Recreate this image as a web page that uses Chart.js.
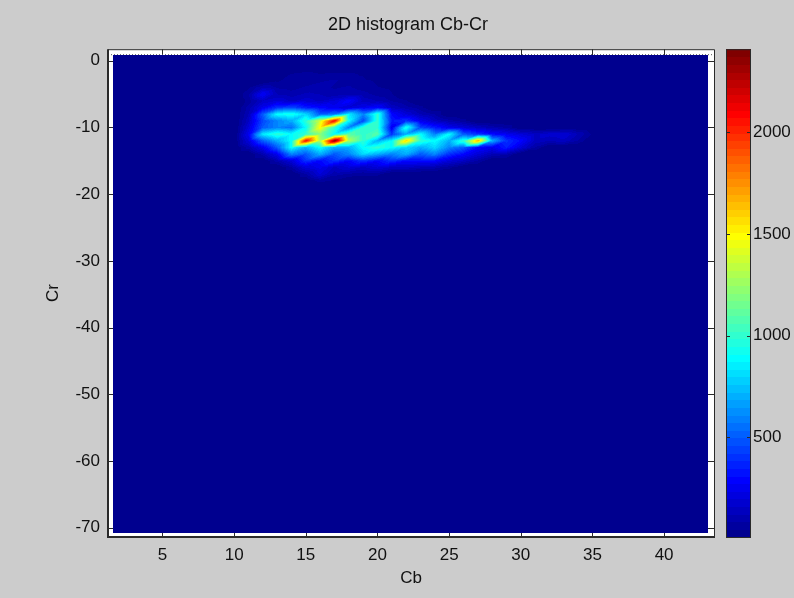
<!DOCTYPE html>
<html>
<head>
<meta charset="utf-8">
<script src="https://cdn.jsdelivr.net/npm/chart.js@4.4.1/dist/chart.umd.min.js"></script>
<style>
  html, body { margin: 0; padding: 0; background: #cccccc; }
  #wrap { width: 794px; height: 598px; }
</style>
</head>
<body>
<div id="wrap"><canvas id="histChart" width="794" height="598"></canvas></div>
<script>
// tick labels
const cbTicks = [5, 10, 15, 20, 25, 30, 35, 40];
const crTicks = [0, -10, -20, -30, -40, -50, -60, -70];
const colorTicks = [500, 1000, 1500, 2000];

// histogram bins (only the non empty block, every other bin is ~0)
const cbBins = [10, 11, 12, 13, 14, 15, 16, 17, 18, 19, 20, 21, 22, 23, 24, 25, 26, 27, 28, 29, 30, 31, 32, 33, 34, 35];
const crBins = [-2, -3, -4, -5, -6, -7, -8, -9, -10, -11, -12, -13, -14, -15, -16, -17, -18];

// counts[row = Cr][col = Cb]
const counts = [
  [0, 0, 0, 0, 50, 70, 50, 60, 60, 40, 0, 0, 0, 0, 0, 0, 0, 0, 0, 0, 0, 0, 0, 0, 0, 0],
  [0, 0, 0, 40, 70, 60, 80, 90, 70, 60, 40, 0, 0, 0, 0, 0, 0, 0, 0, 0, 0, 0, 0, 0, 0, 0],
  [0, 40, 120, 80, 70, 90, 100, 80, 90, 70, 50, 40, 0, 0, 0, 0, 0, 0, 0, 0, 0, 0, 0, 0, 0, 0],
  [0, 80, 280, 120, 100, 130, 120, 100, 110, 100, 70, 50, 0, 0, 0, 0, 0, 0, 0, 0, 0, 0, 0, 0, 0, 0],
  [0, 60, 160, 200, 150, 180, 150, 200, 300, 150, 120, 80, 50, 0, 0, 0, 0, 0, 0, 0, 0, 0, 0, 0, 0, 0],
  [0, 100, 250, 400, 450, 350, 300, 250, 200, 250, 300, 150, 100, 60, 0, 0, 0, 0, 0, 0, 0, 0, 0, 0, 0, 0],
  [0, 120, 500, 900, 950, 800, 500, 550, 850, 600, 1000, 300, 200, 120, 80, 0, 0, 0, 0, 0, 0, 0, 0, 0, 0, 0],
  [0, 150, 450, 600, 700, 1000, 1400, 2100, 900, 450, 1000, 350, 400, 250, 150, 100, 60, 0, 0, 0, 0, 0, 0, 0, 0, 0],
  [0, 200, 500, 600, 550, 900, 1500, 1000, 600, 1000, 1000, 250, 950, 450, 350, 250, 200, 150, 100, 80, 0, 0, 0, 0, 0, 0],
  [0, 250, 850, 1000, 900, 1000, 1200, 900, 1100, 1000, 1100, 400, 700, 900, 600, 900, 500, 400, 300, 250, 200, 150, 180, 200, 120, 40],
  [0, 200, 500, 700, 900, 2100, 1300, 2400, 1300, 1000, 700, 900, 1600, 1000, 900, 700, 1000, 1700, 700, 400, 300, 150, 120, 150, 80, 0],
  [0, 100, 250, 500, 900, 700, 900, 700, 700, 900, 1000, 900, 800, 700, 800, 600, 500, 300, 250, 350, 200, 80, 0, 0, 0, 0],
  [0, 0, 100, 250, 600, 500, 700, 500, 600, 800, 700, 600, 700, 500, 600, 400, 300, 200, 120, 100, 0, 0, 0, 0, 0, 0],
  [0, 0, 0, 100, 200, 400, 300, 400, 300, 400, 300, 400, 300, 300, 300, 200, 150, 80, 0, 0, 0, 0, 0, 0, 0, 0],
  [0, 0, 0, 0, 80, 200, 250, 150, 200, 150, 200, 150, 150, 120, 100, 60, 0, 0, 0, 0, 0, 0, 0, 0, 0, 0],
  [0, 0, 0, 0, 0, 80, 200, 100, 80, 60, 60, 0, 0, 0, 0, 0, 0, 0, 0, 0, 0, 0, 0, 0, 0, 0],
  [0, 0, 0, 0, 0, 0, 60, 40, 0, 0, 0, 0, 0, 0, 0, 0, 0, 0, 0, 0, 0, 0, 0, 0, 0, 0]
];

// extent of the histogram surface and of the colour scale
const cbExtent = [1.55, 43.06];
const crExtent = [-70.8, 0.85];
const colorLimits = [10, 2408];

function countAt(cb, cr) {
  const col = cb - cbBins[0];
  const row = crBins[0] - cr;
  if (col < 0 || col >= cbBins.length || row < 0 || row >= crBins.length) return 0;
  return counts[row][col];
}

// matlab jet(64), idx 1..64
function jet(idx) {
  const u = p => p <= 16 ? p / 16 : (p <= 31 ? 1 : (48 - p) / 16);
  const r = idx >= 25 ? u(idx - 24) : 0;
  const g = (idx >= 9 && idx <= 55) ? u(idx - 8) : 0;
  const b = idx <= 39 ? u(idx + 8) : 0;
  return [Math.round(r * 255), Math.round(g * 255), Math.round(b * 255)];
}

function colorIndex(v) {
  const f = (v - colorLimits[0]) / (colorLimits[1] - colorLimits[0]);
  return Math.min(64, Math.max(1, Math.floor(f * 64) + 1));
}

// interpolated value, quads split along the "/" diagonal like gouraud shading
function surfaceValue(cb, cr) {
  const i0 = Math.floor(cb), j0 = Math.floor(cr);
  const fx = cb - i0, fy = cr - j0;
  const v00 = countAt(i0, j0), v10 = countAt(i0 + 1, j0);
  const v01 = countAt(i0, j0 + 1), v11 = countAt(i0 + 1, j0 + 1);
  if (fx >= fy) return v00 + fx * (v10 - v00) + fy * (v11 - v10);
  return v00 + fy * (v01 - v00) + fx * (v11 - v01);
}

const textColor = '#111111';
const boxColor = '#2a2a2a';

const histPlugin = {
  id: 'histPlugin',
  beforeDraw(chart) {
    const { ctx, chartArea: a } = chart;
    ctx.save();
    ctx.fillStyle = '#cccccc';
    ctx.fillRect(0, 0, chart.width, chart.height);
    ctx.fillStyle = '#ffffff';
    ctx.fillRect(a.left, a.top, a.right - a.left, a.bottom - a.top);
    ctx.restore();
  },
  beforeDatasetsDraw(chart) {
    const { ctx, chartArea: a } = chart;
    const xs = chart.scales.x, ys = chart.scales.y;
    ctx.save();
    // inward ticks (axes layer is below the image)
    ctx.strokeStyle = boxColor;
    ctx.lineWidth = 1;
    ctx.beginPath();
    xs.ticks.forEach(t => {
      const px = Math.round(xs.getPixelForValue(t.value)) + 0.5;
      ctx.moveTo(px, a.bottom); ctx.lineTo(px, a.bottom - 6);
      ctx.moveTo(px, a.top); ctx.lineTo(px, a.top + 6);
    });
    ys.ticks.forEach(t => {
      const py = Math.round(ys.getPixelForValue(t.value)) + 0.5;
      ctx.moveTo(a.left, py); ctx.lineTo(a.left + 6, py);
      ctx.moveTo(a.right, py); ctx.lineTo(a.right - 6, py);
    });
    ctx.stroke();
    ctx.setLineDash([1, 2]);
    ctx.strokeStyle = '#555555';
    ctx.beginPath();
    ctx.moveTo(a.left, a.top + 5.5); ctx.lineTo(a.right, a.top + 5.5);
    ctx.stroke();
    ctx.setLineDash([]);
    // box
    ctx.lineWidth = 1;
    ctx.strokeStyle = boxColor;
    ctx.beginPath();
    ctx.moveTo(a.left, a.top + 0.5); ctx.lineTo(a.right + 0.5, a.top + 0.5);
    ctx.lineTo(a.right + 0.5, a.bottom);
    ctx.stroke();
    ctx.lineWidth = 2;
    ctx.beginPath();
    ctx.moveTo(a.left, a.top); ctx.lineTo(a.left, a.bottom);
    ctx.lineTo(a.right + 1, a.bottom);
    ctx.stroke();

    // histogram surface
    const px0 = Math.round(xs.getPixelForValue(cbExtent[0]));
    const px1 = Math.round(xs.getPixelForValue(cbExtent[1]));
    const py0 = Math.round(ys.getPixelForValue(crExtent[1]));
    const py1 = Math.round(ys.getPixelForValue(crExtent[0]));
    const w = px1 - px0, h = py1 - py0;
    const img = ctx.createImageData(w, h);
    for (let j = 0; j < h; j++) {
      const cr = ys.getValueForPixel(py0 + j + 0.5);
      for (let i = 0; i < w; i++) {
        const cb = xs.getValueForPixel(px0 + i + 0.5);
        const c = jet(colorIndex(surfaceValue(cb, cr)));
        const k = (j * w + i) * 4;
        img.data[k] = c[0]; img.data[k + 1] = c[1]; img.data[k + 2] = c[2]; img.data[k + 3] = 255;
      }
    }
    ctx.putImageData(img, px0, py0);
    ctx.restore();
  },
  afterDraw(chart) {
    const { ctx, chartArea: a } = chart;
    const cs = chart.scales.c;
    const barLeft = a.right + 12, barWidth = 25;
    ctx.save();
    // colorbar
    const step = (colorLimits[1] - colorLimits[0]) / 64;
    for (let k = 0; k < 64; k++) {
      const lo = colorLimits[0] + k * step;
      const yTop = cs.getPixelForValue(lo + step);
      const yBot = cs.getPixelForValue(lo);
      const c = jet(k + 1);
      ctx.fillStyle = 'rgb(' + c.join(',') + ')';
      ctx.fillRect(barLeft, Math.floor(yTop), barWidth, Math.ceil(yBot) - Math.floor(yTop));
    }
    ctx.strokeStyle = boxColor;
    ctx.lineWidth = 1;
    ctx.strokeRect(barLeft + 0.5, a.top + 0.5, barWidth - 1, a.bottom - a.top);
    ctx.beginPath();
    cs.ticks.forEach(t => {
      const py = Math.round(cs.getPixelForValue(t.value)) + 0.5;
      ctx.moveTo(barLeft + 1, py); ctx.lineTo(barLeft + 4, py);
      ctx.moveTo(barLeft + barWidth - 1, py); ctx.lineTo(barLeft + barWidth - 4, py);
    });
    ctx.stroke();
    // title
    ctx.fillStyle = textColor;
    ctx.font = '18px "Liberation Sans", Arial, sans-serif';
    ctx.textAlign = 'center';
    ctx.textBaseline = 'middle';
    ctx.fillText('2D histogram Cb-Cr', (a.left + a.right) / 2 - 3, 25);
    ctx.restore();
  }
};

const font = { family: '"Liberation Sans", Arial, sans-serif', size: 17 };

const config = {
  type: 'scatter',
  data: {
    datasets: [{ data: [], pointRadius: 0 }]
  },
  options: {
    responsive: false,
    animation: false,
    devicePixelRatio: 1,
    layout: { padding: { top: 45, left: 0, right: 0, bottom: 0 } },
    plugins: {
      legend: { display: false },
      tooltip: { enabled: false },
      title: { display: false }
    },
    scales: {
      x: {
        type: 'linear',
        position: 'bottom',
        min: 1.2,
        max: 43.48,
        afterBuildTicks: s => { s.ticks = cbTicks.map(v => ({ value: v })); },
        afterFit: s => { s.height = 61; },
        grid: { display: false, drawTicks: false },
        border: { display: false },
        ticks: { color: textColor, font: font, padding: 8, maxRotation: 0, callback: v => String(v) },
        title: { display: true, text: 'Cb', color: textColor, font: font, padding: { top: 0, bottom: 9 } }
      },
      y: {
        type: 'linear',
        position: 'left',
        min: -71.4,
        max: 1.74,
        afterBuildTicks: s => { s.ticks = crTicks.map(v => ({ value: v })); },
        afterFit: s => { s.width = 108; },
        grid: { display: false, drawTicks: false },
        border: { display: false },
        ticks: { color: textColor, font: font, padding: 8, callback: v => String(v) },
        title: { display: true, text: 'Cr', color: textColor, font: font, padding: { top: 43, bottom: 0 } }
      },
      c: {
        type: 'linear',
        position: 'right',
        min: colorLimits[0],
        max: colorLimits[1],
        afterBuildTicks: s => { s.ticks = colorTicks.map(v => ({ value: v })); },
        afterFit: s => { s.width = 80; },
        grid: { display: false, drawTicks: false },
        border: { display: false },
        ticks: { color: textColor, font: font, padding: 39, callback: v => String(v) }
      }
    }
  },
  plugins: [histPlugin]
};

const histChart = new Chart(document.getElementById('histChart'), config);
</script>
</body>
</html>
